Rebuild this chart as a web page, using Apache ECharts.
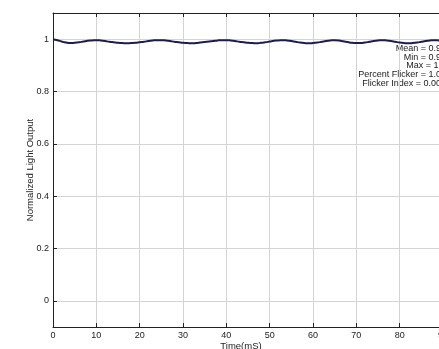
<!DOCTYPE html>
<html>
<head>
<meta charset="utf-8">
<script src="https://cdn.jsdelivr.net/npm/echarts@6/dist/echarts.min.js"></script>
<style>
  html, body { margin: 0; padding: 0; background: #fff; }
  #chart { width: 439px; height: 349px; }
</style>
</head>
<body>
<div id="chart"></div>
<script>
// Time axis (ms) and normalized light output sampled every 1 ms
const timeMs = [];
for (let t = 0; t <= 90; t++) timeMs.push(t);

const lightOutput = [
  1.000, 0.996, 0.991, 0.987, 0.985, 0.986, 0.988, 0.991, 0.994, 0.995,
  0.996, 0.995, 0.993, 0.990, 0.988, 0.986, 0.985, 0.984, 0.985, 0.986,
  0.988, 0.990, 0.993, 0.995, 0.996, 0.996, 0.995, 0.993, 0.990, 0.988,
  0.986, 0.985, 0.984, 0.985, 0.987, 0.989, 0.991, 0.993, 0.995, 0.996,
  0.996, 0.995, 0.993, 0.990, 0.988, 0.986, 0.985, 0.984, 0.986, 0.988,
  0.991, 0.994, 0.995, 0.996, 0.995, 0.993, 0.990, 0.987, 0.985, 0.984,
  0.985, 0.987, 0.990, 0.993, 0.995, 0.996, 0.995, 0.992, 0.989, 0.986,
  0.985, 0.985, 0.987, 0.990, 0.993, 0.995, 0.996, 0.995, 0.993, 0.990,
  0.987, 0.985, 0.984, 0.985, 0.987, 0.990, 0.993, 0.995, 0.996, 0.995,
  0.993
];

const yTicks = [0, 0.2, 0.4, 0.6, 0.8, 1];
const statsLines = [
  'Mean = 0.99',
  'Min = 0.98',
  'Max = 1.0',
  'Percent Flicker = 1.01',
  'Flicker Index = 0.000'
];

const FONT = 'Liberation Sans, Arial, sans-serif';
const chart = echarts.init(document.getElementById('chart'), null, { renderer: 'canvas' });

// Statistics box: one right-aligned text line per entry
const statsGraphics = statsLines.map((line, i) => ({
  type: 'text',
  x: 446,
  y: 44 + i * 8.7,
  style: {
    text: line,
    fontFamily: FONT,
    fontSize: 9,
    fill: '#1a1a1a',
    align: 'right',
    verticalAlign: 'top'
  }
}));

chart.setOption({
  backgroundColor: '#ffffff',
  animation: false,
  grid: { left: 53, top: 13, right: -4, bottom: 22, outerBoundsMode: 'none', containLabel: false },
  xAxis: [{
    type: 'value', min: 0, max: 90, interval: 10,
    name: 'Time(mS)', nameLocation: 'middle', nameGap: 14, nameMoveOverlap: false,
    nameTextStyle: { fontFamily: FONT, fontSize: 9.5, color: '#222', padding: [0, 14, 0, 0] },
    axisLine: { show: true, onZero: false, lineStyle: { color: '#222', width: 1 } },
    axisTick: { show: true, inside: true, length: 4, lineStyle: { color: '#222' } },
    axisLabel: { fontFamily: FONT, fontSize: 9, color: '#222', margin: 4, hideOverlap: false },
    splitLine: { show: true, lineStyle: { color: '#d4d4d4', width: 1 } }
  }, {
    type: 'value', min: 0, max: 90, interval: 10, position: 'top',
    axisLine: { show: true, onZero: false, lineStyle: { color: '#222', width: 1 } },
    axisTick: { show: true, inside: true, length: 4, lineStyle: { color: '#222' } },
    axisLabel: { show: false },
    splitLine: { show: false }
  }],
  yAxis: [{
    type: 'value', min: -0.1, max: 1.1,
    name: 'Normalized Light Output', nameLocation: 'middle', nameGap: 18, nameRotate: 90,
    nameMoveOverlap: false,
    nameTextStyle: { fontFamily: FONT, fontSize: 9.5, color: '#222' },
    axisLine: { show: true, onZero: false, lineStyle: { color: '#222', width: 1 } },
    axisTick: { show: true, inside: true, length: 4, customValues: yTicks, lineStyle: { color: '#222' } },
    axisLabel: {
      fontFamily: FONT, fontSize: 9, color: '#222', margin: 4,
      customValues: yTicks,
      formatter: v => String(Math.round(v * 10) / 10)
    },
    splitLine: { show: true, lineStyle: { color: '#d4d4d4', width: 1 } }
  }],
  series: [{
    type: 'line',
    xAxisIndex: 0, yAxisIndex: 0,
    data: timeMs.map((t, i) => [t, lightOutput[i]]),
    showSymbol: false,
    smooth: true,
    lineStyle: { color: '#1c1c50', width: 2 }
  }],
  graphic: statsGraphics
});
</script>
</body>
</html>
